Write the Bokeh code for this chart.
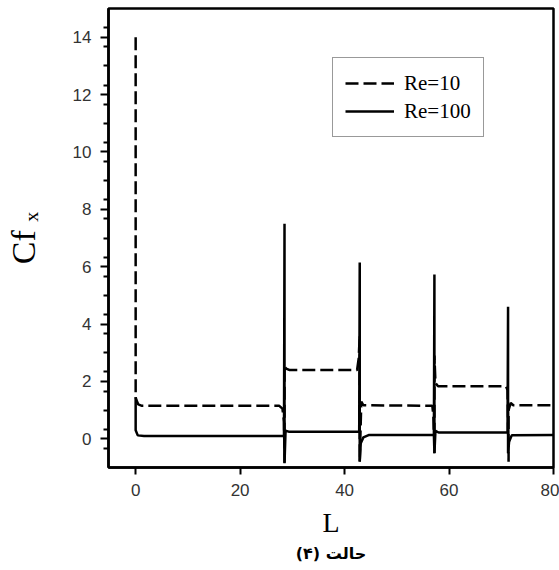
from bokeh.plotting import figure
from bokeh.models import Range1d, FixedTicker, Legend, Title
from bokeh.embed import file_html
from bokeh.resources import INLINE

# Skin friction coefficient along the channel, Re = 10 (dashed)
L_re10 = [0.0, 0.0, 0.15, 0.5, 1.2, 27.5, 28.1, 28.4, 28.5, 28.5, 28.8, 29.4,
          42.4, 42.7, 42.9, 42.9, 43.2, 43.6, 56.8, 57.0, 57.2, 57.2, 57.4, 57.9,
          70.9, 71.2, 71.4, 71.4, 71.8, 72.3, 80.0]
Cf_re10 = [14.0, 1.45, 1.35, 1.2, 1.15, 1.15, 1.05, 0.6, -0.83, 2.55, 2.45, 2.4,
           2.4, 2.8, 3.6, -0.8, 1.3, 1.17, 1.15, 0.8, -0.5, 2.9, 1.95, 1.83,
           1.83, 1.7, -0.8, 1.0, 1.25, 1.17, 1.17]

# Skin friction coefficient along the channel, Re = 100 (solid)
L_re100 = [0.0, 0.0, 0.4, 1.6, 28.4, 28.5, 28.5, 28.7, 29.3, 42.8, 42.9, 42.9,
           43.1, 43.6, 44.6, 57.1, 57.2, 57.2, 57.4, 58.0, 71.2, 71.3, 71.3,
           71.5, 72.0, 80.0]
Cf_re100 = [1.45, 0.3, 0.12, 0.1, 0.1, 7.5, -0.85, 0.28, 0.25, 0.25, 6.15, -0.8,
            -0.15, 0.05, 0.13, 0.13, 5.73, -0.5, 0.28, 0.22, 0.22, 4.6, -0.5,
            -0.1, 0.12, 0.13]

x_ticks = [0, 20, 40, 60, 80]
y_ticks = [0, 2, 4, 6, 8, 10, 12, 14]

p = figure(width=559, height=570, output_backend="svg", toolbar_location=None,
           x_range=Range1d(-5.2, 80), y_range=Range1d(-1.0, 15.0),
           min_border_left=108, min_border_right=6, min_border_top=8,
           min_border_bottom=103)

p.background_fill_color = "white"
p.border_fill_color = "white"
p.outline_line_color = "black"
p.outline_line_width = 2.5
p.grid.visible = False

# axes
p.xaxis.ticker = FixedTicker(ticks=x_ticks)
p.yaxis.ticker = FixedTicker(ticks=y_ticks,
                             minor_ticks=[-1 + 2 / 3 * i for i in range(1, 24)])
for ax in (p.xaxis[0], p.yaxis[0]):
    ax.axis_line_width = 2.5
    ax.axis_line_color = "black"
    ax.major_tick_line_width = 2
    ax.major_tick_line_color = "black"
    ax.minor_tick_line_width = 2
    ax.minor_tick_line_color = "black"
    ax.major_tick_in = 0
    ax.minor_tick_in = 0
    ax.major_label_text_font = "Liberation Sans"
    ax.major_label_text_font_size = "17px"
    ax.major_label_text_color = "#333333"
    ax.major_label_standoff = 9
    ax.axis_label_text_font = "Liberation Serif"
    ax.axis_label_text_font_style = "normal"
    ax.axis_label_text_color = "black"
p.yaxis.major_tick_out = 8
p.yaxis.minor_tick_out = 5
p.xaxis.major_tick_out = 7
p.xaxis.minor_tick_out = 0

p.yaxis.axis_label = "Cf ₓ"
p.yaxis.axis_label_text_font_size = "34px"
p.yaxis.axis_label_standoff = 28
p.xaxis.axis_label = "L"
p.xaxis.axis_label_text_font_size = "28px"
p.xaxis.axis_label_standoff = 8

r10 = p.line(L_re10, Cf_re10, line_color="black", line_width=2.5,
             line_dash="13 5")
r100 = p.line(L_re100, Cf_re100, line_color="black", line_width=2.5)

legend = Legend(items=[("Re=10", [r10]), ("Re=100", [r100])],
                location=(224, 330))
legend.label_text_font = "Liberation Serif"
legend.label_text_font_size = "21px"
legend.label_text_color = "black"
legend.glyph_width = 49
legend.glyph_height = 26
legend.label_height = 26
legend.spacing = 2
legend.padding = 12
legend.margin = 0
legend.label_standoff = 10
legend.border_line_color = "#333333"
legend.border_line_width = 1.2
legend.background_fill_color = "white"
legend.background_fill_alpha = 1.0
p.add_layout(legend)

# caption under the chart
p.add_layout(Title(text="حالت (۴)", align="center", offset=15,
                   text_font="DejaVu Sans", text_font_size="16px",
                   text_font_style="bold", text_color="black",
                   standoff=2), "below")

open("out.html", "w").write(file_html(p, INLINE))
